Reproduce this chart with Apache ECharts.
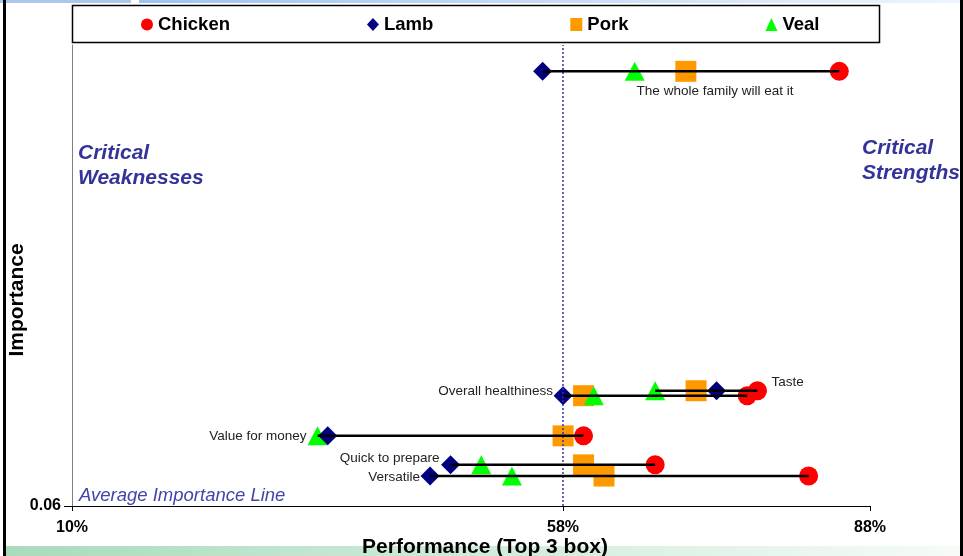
<!DOCTYPE html>
<html>
<head>
<meta charset="utf-8">
<script src="https://cdn.jsdelivr.net/npm/echarts@6.0.0/dist/echarts.min.js"></script>
<style>
  html, body { margin: 0; padding: 0; background: #fff; }
  #chart { width: 963px; height: 556px; }
</style>
</head>
<body>
<div id="chart"></div>
<script>
// attributes, importance (y) and performance per meat (x, % top 3 box)
const attributes = ['The whole family will eat it', 'Taste', 'Overall healthiness', 'Value for money', 'Quick to prepare', 'Versatile'];
const importance = [0.192, 0.095, 0.0935, 0.0813, 0.0725, 0.0691];
const chicken = [85, 77, 76, 60, 67, 82];
const lamb = [56, 73, 58, 35, 47, 45];
const pork = [70, 71, 60, 58, 60, 62];
const veal = [65, 67, 61, 34, 50, 53];
const xTicks = [10, 58, 88];
const yTicks = [0.06];
const avgPerformance = 58;

const FONT = '"Liberation Sans", Arial, sans-serif';

// where each attribute's label sits: at line end 'min' or 'max'
const labelPlace = [
  { end: 'min', position: 'right', offset: [89, 20] },
  { end: 'max', position: 'right', offset: [9, -8] },
  { end: 'min', position: 'left', offset: [-5, -4] },
  { end: 'min', position: 'left', offset: [-6, 0] },
  { end: 'min', position: 'left', offset: [-6, -7] },
  { end: 'min', position: 'left', offset: [-5, 1] }
];

const meats = [
  { name: 'Pork', data: pork, symbol: 'rect', size: 21, color: '#ff9900' },
  { name: 'Veal', data: veal, symbol: 'triangle', size: [20, 19], color: '#00ff00' },
  { name: 'Lamb', data: lamb, symbol: 'diamond', size: [19, 19], color: '#000080' },
  { name: 'Chicken', data: chicken, symbol: 'circle', size: 19, color: '#ff0000' }
];

const chart = echarts.init(document.getElementById('chart'));

const scatterSeries = meats.map((m) => ({
  name: m.name,
  type: 'scatter',
  symbol: m.symbol,
  symbolSize: m.size,
  itemStyle: { color: m.color, opacity: 1 },
  z: 3,
  data: m.data.map((v, i) => [v, importance[i]])
}));

const lineSeries = attributes.map((a, i) => {
  const vals = meats.map((m) => m.data[i]);
  const lo = Math.min(...vals);
  const hi = Math.max(...vals);
  const p = labelPlace[i];
  const lbl = {
    show: true,
    position: p.position,
    offset: p.offset,
    formatter: a,
    color: '#222',
    fontSize: 13.5,
    fontFamily: FONT
  };
  return {
    type: 'line',
    name: a,
    symbol: 'circle',
    symbolSize: 0,
    showSymbol: true,
    lineStyle: { color: '#000', width: 2.5 },
    itemStyle: { color: '#000' },
    z: 5,
    silent: true,
    data: [
      { value: [lo, importance[i]], label: p.end === 'min' ? lbl : { show: false } },
      { value: [hi, importance[i]], label: p.end === 'max' ? lbl : { show: false } }
    ]
  };
});

const option = {
  animation: false,
  backgroundColor: '#fff',
  grid: { left: 72, right: 93, top: 45, bottom: 50, outerBoundsMode: 'none' },
  legend: {
    data: [
      { name: 'Chicken', icon: 'circle' },
      { name: 'Lamb', icon: 'diamond' },
      { name: 'Pork', icon: 'rect' },
      { name: 'Veal', icon: 'triangle' }
    ],
    left: 136,
    top: 10,
    itemGap: 137,
    itemWidth: 12,
    itemHeight: 13,
    textStyle: { fontFamily: FONT, fontSize: 18.5, fontWeight: 'bold', color: '#000' }
  },
  xAxis: {
    type: 'value',
    min: 10,
    max: 88,
    name: 'Performance (Top 3 box)',
    nameLocation: 'middle',
    nameGap: 31,
    nameMoveOverlap: false,
    nameTextStyle: { fontFamily: FONT, fontSize: 21, fontWeight: 'bold', color: '#000', padding: [0, 0, 0, 28] },
    splitLine: { show: false },
    axisLine: { lineStyle: { color: '#000', width: 1 } },
    axisTick: { show: true, customValues: xTicks, length: 5, lineStyle: { color: '#000' } },
    axisLabel: {
      customValues: xTicks,
      formatter: (v) => v + '%',
      margin: 14,
      fontFamily: FONT,
      fontSize: 16,
      fontWeight: 'bold',
      color: '#000'
    }
  },
  yAxis: {
    type: 'value',
    min: 0.06,
    max: 0.2,
    splitLine: { show: false },
    axisLine: { show: true, lineStyle: { color: '#808080', width: 1 } },
    axisTick: { show: true, customValues: yTicks, length: 8, lineStyle: { color: '#000' } },
    axisLabel: {
      customValues: yTicks,
      formatter: (v) => v.toFixed(2),
      margin: 11,
      fontFamily: FONT,
      fontSize: 16,
      fontWeight: 'bold',
      color: '#000'
    }
  },
  graphic: [
    // slide decorations
    { type: 'rect', z: -10, shape: { x: 0, y: 0, width: 131, height: 3 }, style: { fill: '#a9c8ec' } },
    {
      type: 'rect', z: -10, shape: { x: 139, y: 0, width: 824, height: 3 },
      style: { fill: new echarts.graphic.LinearGradient(0, 0, 1, 0, [{ offset: 0, color: '#9cc3f0' }, { offset: 1, color: '#eef5fd' }]) }
    },
    {
      type: 'rect', z: -10, shape: { x: 6, y: 546, width: 954, height: 10 },
      style: { fill: new echarts.graphic.LinearGradient(0, 0, 1, 0, [{ offset: 0, color: '#a8dbbc' }, { offset: 0.6, color: '#d8efe0' }, { offset: 1, color: '#f6fbf8' }]) }
    },
    { type: 'rect', z: 10, shape: { x: 3, y: 0, width: 3, height: 556 }, style: { fill: '#000' } },
    { type: 'rect', z: 10, shape: { x: 960, y: 0, width: 3, height: 556 }, style: { fill: '#000' } },
    // legend frame
    { type: 'rect', z: 0, shape: { x: 72.5, y: 5.5, width: 807, height: 37 }, style: { fill: 'none', stroke: '#000', lineWidth: 1.5 } },
    // y axis title
    {
      type: 'text', x: 17, y: 300, rotation: Math.PI / 2,
      style: { text: 'Importance', font: 'bold 21px ' + FONT, fill: '#000', align: 'center', verticalAlign: 'middle' }
    },
    {
      type: 'text', x: 78, y: 153,
      style: { text: 'Critical\nWeaknesses', font: 'italic bold 21px ' + FONT, fill: '#333399', lineHeight: 25, verticalAlign: 'top', y: -12 }
    },
    {
      type: 'text', x: 862, y: 148,
      style: { text: 'Critical\nStrengths', font: 'italic bold 21px ' + FONT, fill: '#333399', lineHeight: 25, verticalAlign: 'top', y: -12 }
    },
    {
      type: 'text', x: 79, y: 496,
      style: { text: 'Average Importance Line', font: 'italic 18.5px ' + FONT, fill: '#4444aa', verticalAlign: 'middle' }
    }
  ],
  series: [
    ...scatterSeries,
    ...lineSeries,
    {
      type: 'line',
      name: 'avg',
      data: [],
      silent: true,
      markLine: {
        symbol: 'none',
        silent: true,
        label: { show: false },
        lineStyle: { color: '#3333aa', type: [2, 2], width: 1.5 },
        data: [{ xAxis: avgPerformance }]
      }
    }
  ]
};

chart.setOption(option);
</script>
</body>
</html>
